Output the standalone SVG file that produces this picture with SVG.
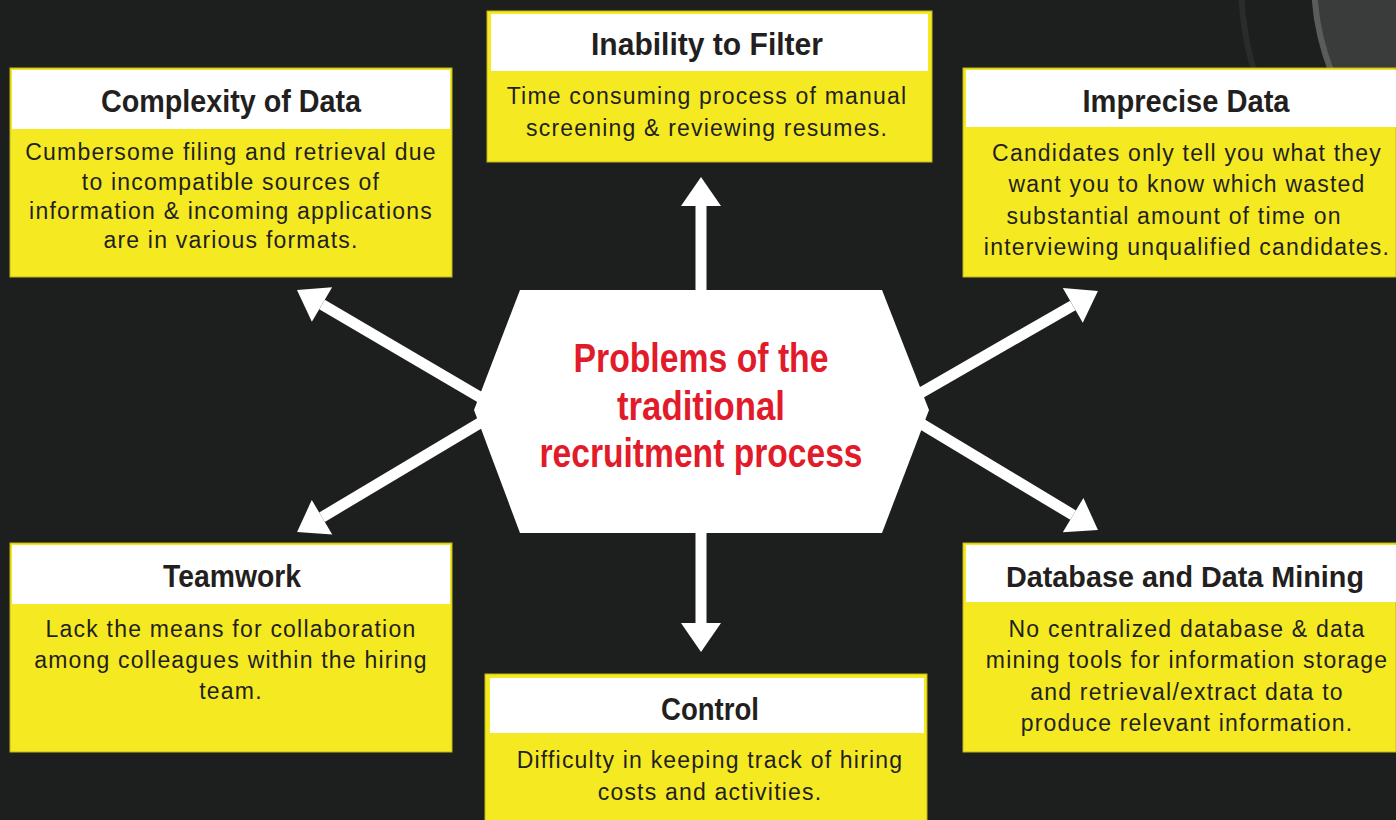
<svg xmlns="http://www.w3.org/2000/svg" width="1396" height="820" viewBox="0 0 1396 820">
<style>
.bg{fill:#1d1e1e}
.box{fill:#f5ea22;stroke:#bdb41c;stroke-width:1}
.hd{fill:#ffffff}
.h{font-family:"Liberation Sans",Arial,sans-serif;font-weight:bold;font-size:32px;fill:#231f20;text-anchor:middle}
.b{font-family:"Liberation Sans",Arial,sans-serif;font-size:23px;letter-spacing:1.2px;fill:#231f20;text-anchor:middle}
.c{font-family:"Liberation Sans",Arial,sans-serif;font-weight:bold;font-size:40px;fill:#e21b2b;text-anchor:middle}
.arr{stroke:#ffffff;stroke-width:11;fill:none;marker-end:url(#ah)}
</style>
<defs>
<marker id="ah" markerUnits="userSpaceOnUse" markerWidth="30" markerHeight="42" refX="0" refY="21" orient="auto" overflow="visible">
<path d="M0,1 L29,21 L0,41 z" fill="#ffffff"/>
</marker>
</defs>
<rect class="bg" x="0" y="0" width="1396" height="820"/>
<g id="decor">
<circle cx="1564" cy="-20" r="323" fill="none" stroke="#2a2b2b" stroke-width="6"/>
<circle cx="1564" cy="-20" r="250" fill="#3a3b3b" stroke="#5a5b5b" stroke-width="6"/>
</g>
<g id="connectors">
<line class="arr" x1="701" y1="300" x2="701" y2="206"/>
<line class="arr" x1="701" y1="520" x2="701" y2="623"/>
<line class="arr" x1="495" y1="406" x2="322" y2="304.6"/>
<line class="arr" x1="495" y1="414" x2="322" y2="517.2"/>
<line class="arr" x1="905" y1="402" x2="1072.8" y2="305.4"/>
<line class="arr" x1="905" y1="414" x2="1073.1" y2="515.1"/>
</g>
<g id="center">
<polygon points="520,290 882,290 929,410 882,533 520,533 474,410" fill="#ffffff"/>
<text class="c" x="701" y="372" textLength="255" lengthAdjust="spacingAndGlyphs">Problems of the</text>
<text class="c" x="701" y="420" textLength="168" lengthAdjust="spacingAndGlyphs">traditional</text>
<text class="c" x="701" y="467" textLength="323" lengthAdjust="spacingAndGlyphs">recruitment process</text>
</g>
<g id="inability">
<rect class="box" x="487" y="11" width="445" height="151"/>
<rect class="hd" x="491" y="14" width="437" height="57"/>
<text class="h" x="707" y="55" textLength="232" lengthAdjust="spacingAndGlyphs">Inability to Filter</text>
<text class="b" x="707" y="104">Time consuming process of manual</text>
<text class="b" x="707" y="136">screening &amp; reviewing resumes.</text>
</g>
<g id="complexity">
<rect class="box" x="10" y="68" width="442" height="209"/>
<rect class="hd" x="12" y="70" width="438" height="59"/>
<text class="h" x="231" y="112" textLength="260" lengthAdjust="spacingAndGlyphs">Complexity of Data</text>
<text class="b" x="231" y="160">Cumbersome filing and retrieval due</text>
<text class="b" x="231" y="190">to incompatible sources of</text>
<text class="b" x="231" y="219">information &amp; incoming applications</text>
<text class="b" x="231" y="248">are in various formats.</text>
</g>
<g id="imprecise">
<rect class="box" x="963" y="68" width="433" height="209"/>
<rect class="hd" x="966" y="70" width="430" height="57"/>
<text class="h" x="1186" y="112" textLength="207" lengthAdjust="spacingAndGlyphs">Imprecise Data</text>
<text class="b" x="1187" y="161">Candidates only tell you what they</text>
<text class="b" x="1187" y="192">want you to know which wasted</text>
<text class="b" x="1174" y="224">substantial amount of time on</text>
<text class="b" x="1187" y="255">interviewing unqualified candidates.</text>
</g>
<g id="teamwork">
<rect class="box" x="10" y="543" width="442" height="209"/>
<rect class="hd" x="12" y="545" width="438" height="59"/>
<text class="h" x="232" y="587" textLength="138" lengthAdjust="spacingAndGlyphs">Teamwork</text>
<text class="b" x="231" y="637">Lack the means for collaboration</text>
<text class="b" x="231" y="668">among colleagues within the hiring</text>
<text class="b" x="231" y="699">team.</text>
</g>
<g id="database">
<rect class="box" x="963" y="543" width="433" height="209"/>
<rect class="hd" x="966" y="545" width="430" height="57"/>
<text class="h" x="1185" y="587" style="font-size:30px" textLength="358" lengthAdjust="spacingAndGlyphs">Database and Data Mining</text>
<text class="b" x="1187" y="637">No centralized database &amp; data</text>
<text class="b" x="1187" y="668">mining tools for information storage</text>
<text class="b" x="1187" y="700">and retrieval/extract data to</text>
<text class="b" x="1187" y="731">produce relevant information.</text>
</g>
<g id="control">
<rect class="box" x="485" y="674" width="442" height="160"/>
<rect class="hd" x="490" y="678" width="434" height="55"/>
<text class="h" x="710" y="720" textLength="98" lengthAdjust="spacingAndGlyphs">Control</text>
<text class="b" x="710" y="768">Difficulty in keeping track of hiring</text>
<text class="b" x="710" y="800">costs and activities.</text>
</g>
</svg>
